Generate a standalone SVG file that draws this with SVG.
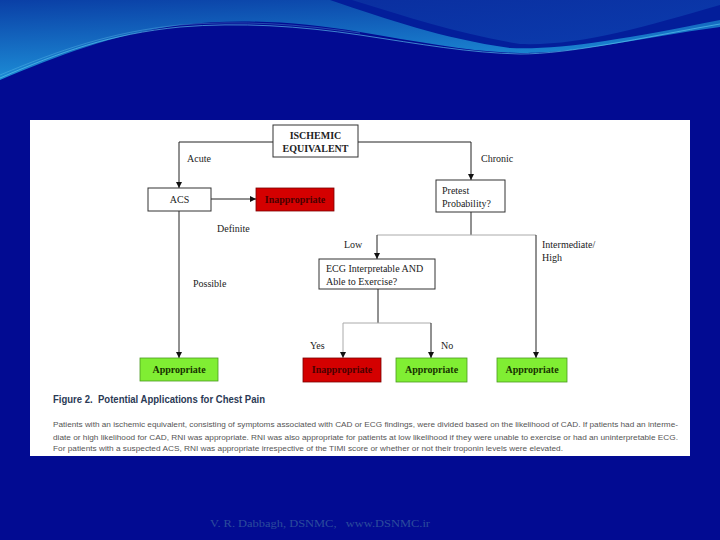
<svg xmlns="http://www.w3.org/2000/svg" width="720" height="540" viewBox="0 0 720 540">
<defs>
<linearGradient id="tl" x1="0" y1="0" x2="0.3" y2="1">
<stop offset="0" stop-color="#0a3fa6"/>
<stop offset="1" stop-color="#1e93da"/>
</linearGradient>
<linearGradient id="tr" x1="0" y1="0" x2="1" y2="1">
<stop offset="0" stop-color="#0a2fa0"/>
<stop offset="1" stop-color="#0b3cae"/>
</linearGradient>
<marker id="ar" viewBox="0 0 10 10" refX="10" refY="5" markerWidth="6" markerHeight="6" orient="auto" markerUnits="userSpaceOnUse">
<path d="M0,0 L10,5 L0,10 z" fill="#111"/>
</marker>
<style>
.lbl{font-family:"Liberation Serif",serif;font-size:10px;fill:#222}
.bx{fill:#fff;stroke:#333;stroke-width:1}
.red{fill:#d40000;stroke:#7a0000;stroke-width:0.8}
.grn{fill:#80ee33;stroke:#4a9a20;stroke-width:0.8}
.bt{font-family:"Liberation Serif",serif;font-size:10px;font-weight:bold;text-anchor:middle}
.rt{fill:#4a0000}
.gt{fill:#173300}
.ln{fill:none;stroke:#222;stroke-width:1}
.lt{fill:none;stroke:#aaa;stroke-width:1}
.cap{font-family:"Liberation Sans",Arial,sans-serif;font-size:8px;fill:#555}
</style>
</defs>
<rect width="720" height="540" fill="#020b92"/>
<path d="M0,0 H720 V27 C680,32 640,40 600,46 C560,52 540,53 520,53 C470,52 420,42 360,32 C300,22 240,18 180,25 C110,35 60,55 0,80 Z" fill="url(#tl)"/>
<path d="M330,0 C390,20 440,38 510,48 C560,50 620,40 720,20 V0 Z" fill="#031e9a"/>
<path d="M352,0 C410,18 460,34 520,44 C580,46 640,28 720,5 V0 Z" fill="url(#tr)"/>
<path d="M0,78 C60,52 110,34 180,27 C240,22 300,26 360,35 C420,44 470,53 520,54 C570,54 640,38 720,24" fill="none" stroke="#5ec8f0" stroke-width="0.8" opacity="0.8"/>
<path d="M0,75 C60,50 110,32 180,25 C240,20 300,24 360,33" fill="none" stroke="#7ad6f5" stroke-width="0.5" opacity="0.6"/>
<rect x="30" y="120" width="660" height="336" fill="#fff"/>
<g id="connectors">
<polyline class="ln" points="273,142 179,142 179,188" marker-end="url(#ar)"/>
<polyline class="ln" points="358,142 471,142 471,180" marker-end="url(#ar)"/>
<line class="ln" x1="211" y1="199" x2="256" y2="199" marker-end="url(#ar)"/>
<line class="ln" x1="179" y1="211" x2="179" y2="358" marker-end="url(#ar)"/>
<line class="ln" x1="471" y1="212" x2="471" y2="235"/>
<line class="lt" x1="377" y1="235" x2="536" y2="235"/>
<line class="ln" x1="377" y1="235" x2="377" y2="259" marker-end="url(#ar)"/>
<line class="ln" x1="536" y1="235" x2="536" y2="358" marker-end="url(#ar)"/>
<line class="ln" x1="378" y1="289" x2="378" y2="323"/>
<line class="lt" x1="343" y1="323" x2="431" y2="323"/>
<line class="lt" x1="343" y1="323" x2="343" y2="358" marker-end="url(#ar)"/>
<line class="ln" x1="431" y1="323" x2="431" y2="358" marker-end="url(#ar)"/>
</g>
<g id="labels">
<text class="lbl" x="187" y="162">Acute</text>
<text class="lbl" x="481" y="162">Chronic</text>
<text class="lbl" x="217" y="232">Definite</text>
<text class="lbl" x="344" y="248">Low</text>
<text class="lbl" x="542" y="248">Intermediate/</text>
<text class="lbl" x="542" y="261">High</text>
<text class="lbl" x="193" y="287">Possible</text>
<text class="lbl" x="310" y="349">Yes</text>
<text class="lbl" x="441" y="349">No</text>
</g>
<g id="ischemic">
<rect class="bx" x="273" y="125" width="85" height="32"/>
<text class="bt" x="315.5" y="139" fill="#222">ISCHEMIC</text>
<text class="bt" x="315.5" y="152" fill="#222">EQUIVALENT</text>
</g>
<g id="acs">
<rect class="bx" x="148" y="188" width="63" height="23"/>
<text class="lbl" x="179.5" y="203" text-anchor="middle">ACS</text>
</g>
<g id="inappropriate1">
<rect class="red" x="256" y="188" width="78" height="23"/>
<text class="bt rt" x="295" y="203">Inappropriate</text>
</g>
<g id="pretest">
<rect class="bx" x="436" y="180" width="69" height="32"/>
<text class="lbl" x="442" y="194">Pretest</text>
<text class="lbl" x="442" y="207">Probability?</text>
</g>
<g id="ecg">
<rect class="bx" x="319" y="259" width="116" height="30"/>
<text class="lbl" x="326" y="272">ECG Interpretable AND</text>
<text class="lbl" x="326" y="285">Able to Exercise?</text>
</g>
<g id="appropriate1">
<rect class="grn" x="140" y="358" width="78" height="23"/>
<text class="bt gt" x="179" y="373">Appropriate</text>
</g>
<g id="inappropriate2">
<rect class="red" x="303" y="358" width="78" height="24"/>
<text class="bt rt" x="342" y="373">Inappropriate</text>
</g>
<g id="appropriate2">
<rect class="grn" x="396" y="358" width="71" height="24"/>
<text class="bt gt" x="431.5" y="373">Appropriate</text>
</g>
<g id="appropriate3">
<rect class="grn" x="497" y="358" width="70" height="24"/>
<text class="bt gt" x="532" y="373">Appropriate</text>
</g>
<g id="caption">
<text x="53" y="403" font-family="'Liberation Sans',Arial,sans-serif" font-size="10px" font-weight="bold" fill="#2b3a55" textLength="212" lengthAdjust="spacingAndGlyphs" xml:space="preserve">Figure 2.  Potential Applications for Chest Pain</text>
<text class="cap" x="53" y="427" textLength="625" lengthAdjust="spacingAndGlyphs">Patients with an ischemic equivalent, consisting of symptoms associated with CAD or ECG findings, were divided based on the likelihood of CAD. If patients had an interme-</text>
<text class="cap" x="53" y="440" textLength="625" lengthAdjust="spacingAndGlyphs">diate or high likelihood for CAD, RNI was appropriate. RNI was also appropriate for patients at low likelihood if they were unable to exercise or had an uninterpretable ECG.</text>
<text class="cap" x="53" y="451" textLength="510" lengthAdjust="spacingAndGlyphs">For patients with a suspected ACS, RNI was appropriate irrespective of the TIMI score or whether or not their troponin levels were elevated.</text>
</g>
<text x="210" y="527" font-family="'Liberation Serif',serif" font-size="11px" fill="#2c4c9c" textLength="220" lengthAdjust="spacingAndGlyphs" xml:space="preserve">V. R. Dabbagh, DSNMC,   www.DSNMC.ir</text>
</svg>
